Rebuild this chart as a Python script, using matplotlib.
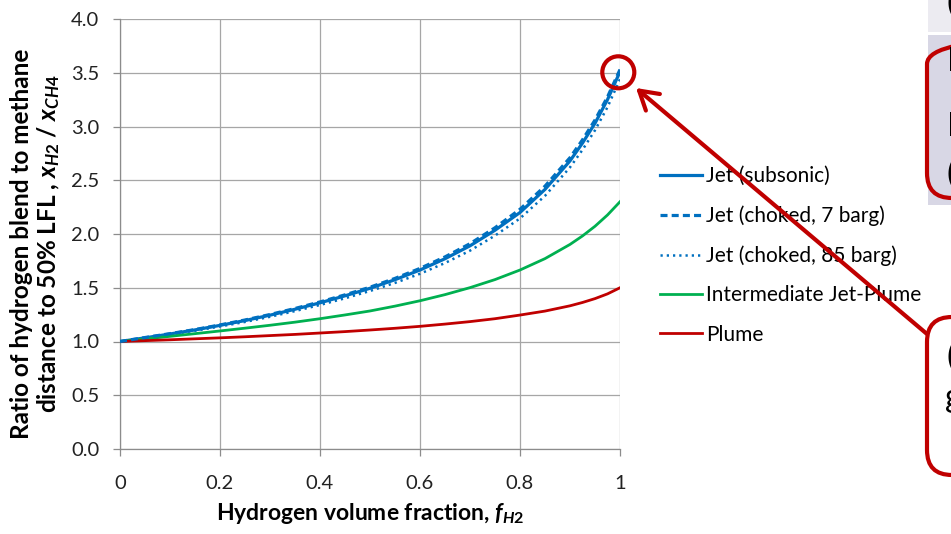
import matplotlib
matplotlib.use("Agg")
import matplotlib.pyplot as plt
from matplotlib.patches import FancyBboxPatch, Circle, Rectangle, FancyArrowPatch

plt.rcParams['font.family'] = ['Lato', 'DejaVu Sans']
plt.rcParams['mathtext.fontset'] = 'custom'
plt.rcParams['mathtext.it'] = 'Lato:bold:italic'
plt.rcParams['mathtext.rm'] = 'Lato:bold'
plt.rcParams['mathtext.bf'] = 'Lato:bold'

# hydrogen volume fraction
f_h2 = [0, 0.05, 0.1, 0.15, 0.2, 0.25, 0.3, 0.35, 0.4, 0.45, 0.5, 0.55, 0.6,
        0.65, 0.7, 0.75, 0.8, 0.85, 0.9, 0.925, 0.95, 0.975, 1.0]

jet_subsonic = [1.000, 1.034, 1.070, 1.108, 1.150, 1.195, 1.245, 1.300, 1.360,
                1.425, 1.495, 1.575, 1.665, 1.770, 1.890, 2.035, 2.200, 2.415,
                2.680, 2.846, 3.030, 3.250, 3.510]
jet_7barg = [1.000, 1.037, 1.073, 1.111, 1.154, 1.200, 1.251, 1.307, 1.368,
             1.434, 1.505, 1.587, 1.680, 1.787, 1.910, 2.058, 2.230, 2.445,
             2.710, 2.876, 3.060, 3.275, 3.530]
jet_85barg = [1.000, 1.031, 1.065, 1.100, 1.140, 1.182, 1.230, 1.283, 1.340,
              1.402, 1.470, 1.545, 1.630, 1.730, 1.845, 1.985, 2.145, 2.355,
              2.620, 2.783, 2.965, 3.180, 3.440]
intermediate = [1.000, 1.024, 1.048, 1.073, 1.098, 1.124, 1.151, 1.180, 1.212,
                1.247, 1.284, 1.329, 1.379, 1.436, 1.501, 1.576, 1.665, 1.771,
                1.903, 1.982, 2.072, 2.177, 2.300]
plume = [1.000, 1.008, 1.016, 1.025, 1.034, 1.044, 1.055, 1.066, 1.079, 1.092,
         1.107, 1.123, 1.141, 1.162, 1.185, 1.212, 1.246, 1.283, 1.332, 1.363,
         1.399, 1.443, 1.500]

x_ticks = [0, 0.2, 0.4, 0.6, 0.8, 1]
x_labels = ['0', '0.2', '0.4', '0.6', '0.8', '1']
y_ticks = [0, 0.5, 1.0, 1.5, 2.0, 2.5, 3.0, 3.5, 4.0]

blue = '#0070C0'
green = '#00B050'
red = '#C00000'
grid_col = '#A6A6A6'

W, H = 951, 534
fig = plt.figure(figsize=(W / 100, H / 100), dpi=100)
ax = fig.add_axes([120 / W, 1 - 449 / H, 500 / W, 430 / H])

ax.plot(f_h2, jet_subsonic, color=blue, lw=2.3, label='Jet (subsonic)', zorder=3)
ax.plot(f_h2, jet_7barg, color=blue, lw=2.3, dashes=(2.2, 1.3),
        label='Jet (choked, 7 barg)', zorder=4)
ax.plot(f_h2, jet_85barg, color=blue, lw=1.8, dashes=(0.9, 1.6),
        label='Jet (choked, 85 barg)', zorder=3)
ax.plot(f_h2, intermediate, color=green, lw=2.0, label='Intermediate Jet-Plume', zorder=3)
ax.plot(f_h2, plume, color=red, lw=2.0, label='Plume', zorder=3)

ax.set_xlim(0, 1)
ax.set_ylim(0, 4)
ax.set_xticks(x_ticks)
ax.set_xticklabels(x_labels)
ax.set_yticks(y_ticks)
ax.set_yticklabels([f'{v:.1f}' for v in y_ticks])
ax.grid(True, color=grid_col, lw=0.9)
ax.set_axisbelow(True)
for s in ['top', 'right']:
    ax.spines[s].set_visible(False)
for s in ['left', 'bottom']:
    ax.spines[s].set_color('#8C8C8C')
    ax.spines[s].set_linewidth(0.9)
ax.tick_params(axis='both', direction='out', length=5, width=0.9, color='#8C8C8C',
               labelsize=14.5, labelcolor='#222222')
ax.tick_params(axis='x', pad=14)
ax.tick_params(axis='y', pad=10)

fig.text(36 / W, 1 - 244 / H,
         'Ratio of hydrogen blend to methane\ndistance to 50% LFL , $x_{H2}$ / $x_{CH4}$',
         rotation=90, ha='center', va='center', fontsize=17.5, fontweight='bold',
         linespacing=1.1)
fig.text(370 / W, 1 - 520 / H, 'Hydrogen volume fraction, $f_{H2}$',
         ha='center', va='baseline', fontsize=16.5, fontweight='bold')

fig.legend(loc='upper left', bbox_to_anchor=(660 / W, 1 - 166 / H),
           frameon=False, fontsize=15, handlelength=2.0, handletextpad=0.2,
           labelspacing=0.93, borderpad=0, borderaxespad=0)

# slide decorations on the right (cut off in the screenshot)
inch = fig.dpi_scale_trans


def py(y):
    return (H - y) / 100


fig.add_artist(Rectangle((9.28, py(32)), 1.0, 0.32, transform=inch,
                         fc='#ECEBF1', ec='none', zorder=1))
fig.add_artist(Rectangle((9.28, py(205)), 1.0, py(35) - py(205), transform=inch,
                         fc='#D8D7E5', ec='none', zorder=1))
fig.add_artist(FancyBboxPatch((9.27, py(198)), 1.5, py(39) - py(198), transform=inch,
                              boxstyle='round,pad=0,rounding_size=0.25',
                              fc='none', ec=red, lw=3, zorder=2))
fig.add_artist(FancyBboxPatch((9.27, py(475)), 1.5, py(317) - py(475), transform=inch,
                              boxstyle='round,pad=0,rounding_size=0.25',
                              fc='white', ec=red, lw=3, zorder=2))
fig.text(946 / W, 1 - 4 / H, '(', fontsize=24, ha='left', va='center', zorder=3)
fig.text(947 / W, 1 - 62 / H, 'Pure', fontsize=24, ha='left', va='center', zorder=3)
fig.text(947 / W, 1 - 127 / H, 'Blend', fontsize=24, ha='left', va='center', zorder=3)
fig.text(946 / W, 1 - 175 / H, '(', fontsize=24, ha='left', va='center', zorder=3)
fig.text(946 / W, 1 - 358 / H, '(', fontsize=24, ha='left', va='center', zorder=3)
fig.text(945 / W, 1 - 398 / H, 'g', fontsize=24, ha='left', va='center', zorder=3)

fig.add_artist(Circle((6.183, py(72.3)), 0.16, transform=inch, fill=False,
                      ec=red, lw=3, zorder=6))
fig.add_artist(FancyArrowPatch((9.27, py(334)), (6.36, py(88)), transform=inch,
                               arrowstyle='->,head_length=1.0,head_width=0.6',
                               mutation_scale=13, color=red, lw=3, zorder=6,
                               shrinkA=0, shrinkB=0))

fig.savefig('out.png', dpi=100)
